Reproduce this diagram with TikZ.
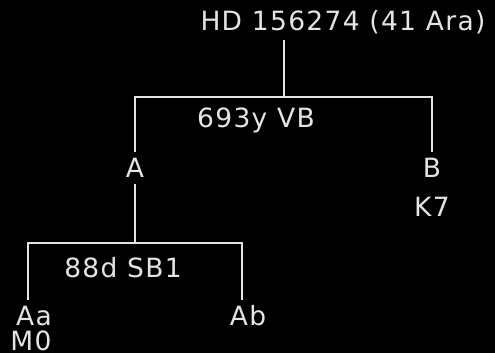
\documentclass[tikz,border=0pt]{standalone}
\usepackage{fontspec}
\setmainfont{DejaVu Sans}[LetterSpace=5]
\definecolor{inkgray}{RGB}{228, 228, 228}
\usetikzlibrary{positioning}

\begin{document}
\begin{tikzpicture}[x=1pt, y=-1pt]
      \tikzstyle{lbl} = [text=inkgray, font=\fontsize{26.5}{28}\selectfont, inner sep=6pt]
      \tikzstyle{line} = [draw, inkgray, line width=2pt]

      \fill[black] (0,0) rectangle (495,353);
      \useasboundingbox (0,0) rectangle (495,353);

      \node [lbl] (sys) at (343,22) {HD 156274 (41 Ara)};
      \coordinate (j1) at (284,97);
      \node [lbl] (A) at (135,168) {A};
      \node [lbl] (B) at (432,168) {B};
      \node [lbl] (Bsp) at (432,207) {K7};
      \node [lbl] (vb) at (256,120) {693y VB};

      \coordinate (j2) at (135,243);
      \node [lbl] (Aa) at (34,316) {Aa};
      \node [lbl] (Ab) at (248,316) {Ab};
      \node [lbl] (Aasp) at (31,341) {M0};
      \node [lbl] (sb) at (123,268) {88d SB1};

      \path [line] (j1 |- sys.south) -- (j1);
      \path [line] (j1) -| (A.north);
      \path [line] (j1) -| (B.north);
      \path [line] (A.south) -- (j2);
      \path [line] (j2) -| ([xshift=-6pt]Aa.north);
      \path [line] (j2) -| ([xshift=-6pt]Ab.north);
    \end{tikzpicture}
\end{document}
